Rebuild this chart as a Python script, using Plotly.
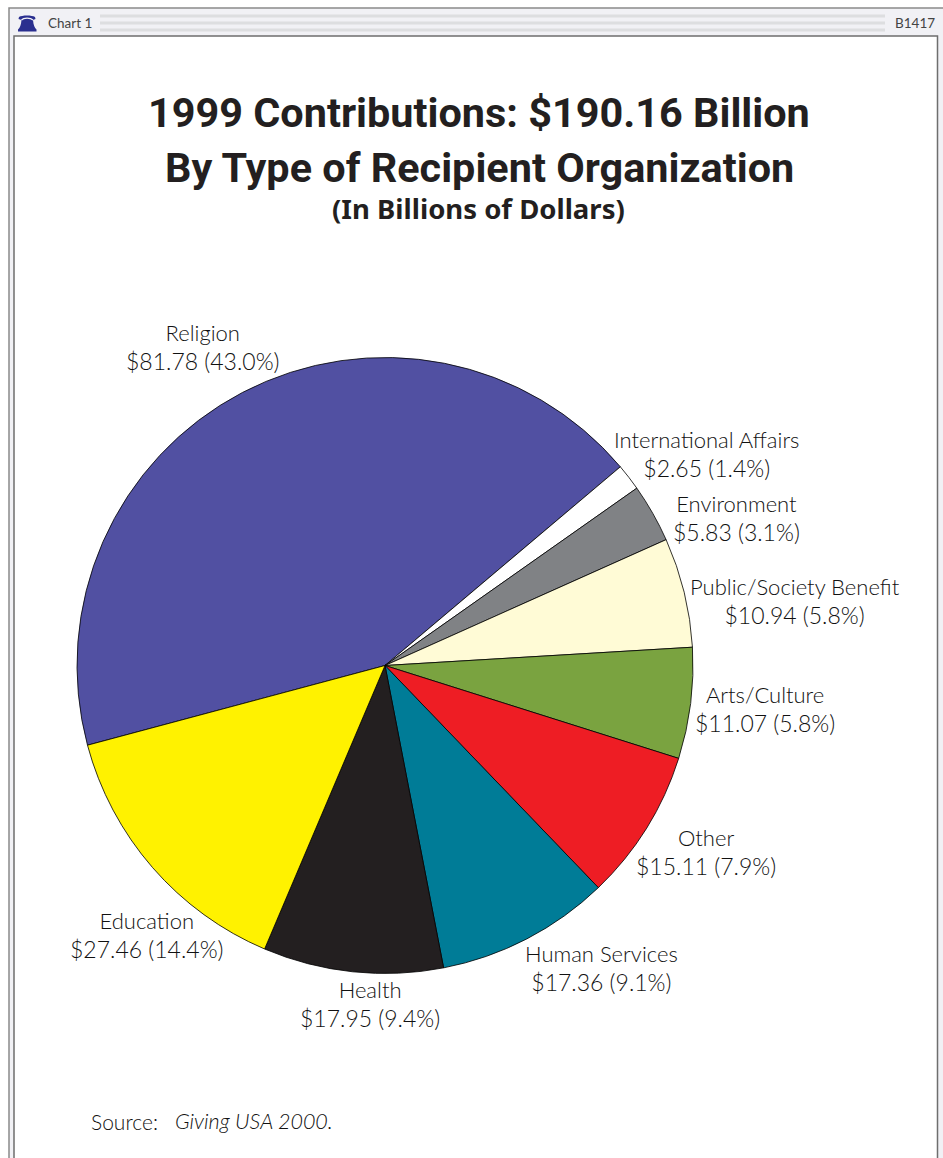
import plotly.graph_objects as go

W, H = 943, 1158

# Contributions by recipient type, clockwise from Religion
categories = ["Religion", "International Affairs", "Environment", "Public/Society Benefit",
              "Arts/Culture", "Other", "Human Services", "Health", "Education"]
amounts = [81.78, 2.65, 5.83, 10.94, 11.07, 15.11, 17.36, 17.95, 27.46]
percents = [43.0, 1.4, 3.1, 5.8, 5.8, 7.9, 9.1, 9.4, 14.4]
slice_colors = ["#5150A2", "#FFFFFF", "#808285", "#FFFBD6", "#7AA340",
                "#EE1D24", "#007C97", "#231F20", "#FFF200"]

# Label anchor points in page pixels (centre of each two-line label)
label_x = [202.5, 706.5, 736, 794.5, 765, 705.5, 601, 370, 147]
label_y = [347, 454, 518, 601, 709, 852, 968, 1004, 935]

TEXT_FONT = "Lato, 'Open Sans', sans-serif"
TEXT_COLOR = "#111111"


def px(x):
    return x / W


def py(y):
    return 1 - y / H


def rect(x0, y0, x1, y1, fill=None, line=None, width=1):
    return dict(type="rect", xref="paper", yref="paper", layer="below",
                x0=px(x0), x1=px(x1), y0=py(y0), y1=py(y1),
                fillcolor=fill or "rgba(0,0,0,0)",
                line=dict(color=line or "rgba(0,0,0,0)", width=width if line else 0))


def text(x, y, s, size, color=TEXT_COLOR, family=TEXT_FONT, xanchor="center", weight=400):
    return dict(xref="paper", yref="paper", x=px(x), y=py(y), text=s, showarrow=False,
                xanchor=xanchor, yanchor="middle", align="center",
                font=dict(size=size, color=color, family=family, weight=weight))


fig = go.Figure(go.Pie(
    labels=categories,
    values=amounts,
    sort=False,
    direction="clockwise",
    rotation=255,
    textinfo="none",
    hoverinfo="label+value",
    showlegend=False,
    marker=dict(colors=slice_colors, line=dict(color="#000000", width=0.8)),
    domain=dict(x=[px(77), px(693)], y=[py(974), py(357)]),
))

# Page frame, header strip and its ruled lines
shapes = [
    rect(9, 8, 946, 1170, fill="#F1F1F5", line="#8A8A8A", width=1.5),
    rect(14, 36, 937.5, 1170, fill="#FFFFFF", line="#6E6E6E", width=1.5),
]
for rule_y in (16, 23, 30):
    shapes.append(rect(100, rule_y - 1.5, 885, rule_y + 1.5, fill="#DDDEE0"))


def outline(*segments, close=True):
    """Join (command, x, y, ...) tuples in page pixels into a paper-space SVG path."""
    parts = []
    for seg in segments:
        cmd, coords = seg[0], seg[1:]
        pairs = [f"{px(coords[i])} {py(coords[i + 1])}" for i in range(0, len(coords), 2)]
        parts.append(cmd + " " + " ".join(pairs))
    return " ".join(parts) + (" Z" if close else "")


# Bell mark in the header: dome with a flared mouth
shapes.append(dict(
    type="path", xref="paper", yref="paper", layer="above",
    path=outline(("M", 19, 17), ("C", 22, 15, 32, 15, 35, 17), ("L", 35.5, 19), ("L", 33, 20),
                 ("C", 33.5, 25, 34.5, 28, 36.5, 29.5), ("L", 36.5, 31.5), ("L", 18, 31.5),
                 ("L", 18, 29.5), ("C", 20, 28, 21, 25, 21.5, 20), ("L", 18.5, 19)),
    fillcolor="#2A2F8F", line=dict(width=0)))
# Thin highlight arc under the dome
shapes.append(dict(
    type="path", xref="paper", yref="paper", layer="above",
    path=outline(("M", 21.5, 20), ("C", 23.5, 17.6, 30.5, 17.6, 33, 20), close=False),
    fillcolor="rgba(0,0,0,0)", line=dict(color="#F1F1F5", width=1.2)))

TITLE_FONT = "Roboto, 'Open Sans', sans-serif"
annotations = [
    text(46, 23, "Chart 1", 13.5, color="#444444", xanchor="left"),
    text(893, 23, "B1417", 13.5, color="#444444", xanchor="left"),
    text(479, 113, "1999 Contributions: $190.16 Billion", 41.4, color="#231F20", family=TITLE_FONT, weight=700),
    text(479, 168, "By Type of Recipient Organization", 41.4, color="#231F20", family=TITLE_FONT, weight=700),
    text(478, 208, "(In Billions of Dollars)", 27.5, color="#231F20", family="'Noto Sans', sans-serif", weight=700),
    text(88.5, 1121, "Source:", 21, xanchor="left", weight=300),
    text(172.5, 1121, "<i>Giving USA 2000.</i>", 21.5, xanchor="left", weight=300),
]
for name, amount, pct, x, y in zip(categories, amounts, percents, label_x, label_y):
    value_line = f"<span style='font-size:23px'>${amount:.2f} ({pct:.1f}%)</span>"
    annotations.append(text(x, y, f"{name}<br>{value_line}", 22, weight=300))

fig.update_layout(
    width=W, height=H,
    autosize=False,
    margin=dict(l=0, r=0, t=0, b=0),
    paper_bgcolor="#FFFFFF",
    shapes=shapes,
    annotations=annotations,
)

fig.write_html("out.html", config=dict(displayModeBar=False))
